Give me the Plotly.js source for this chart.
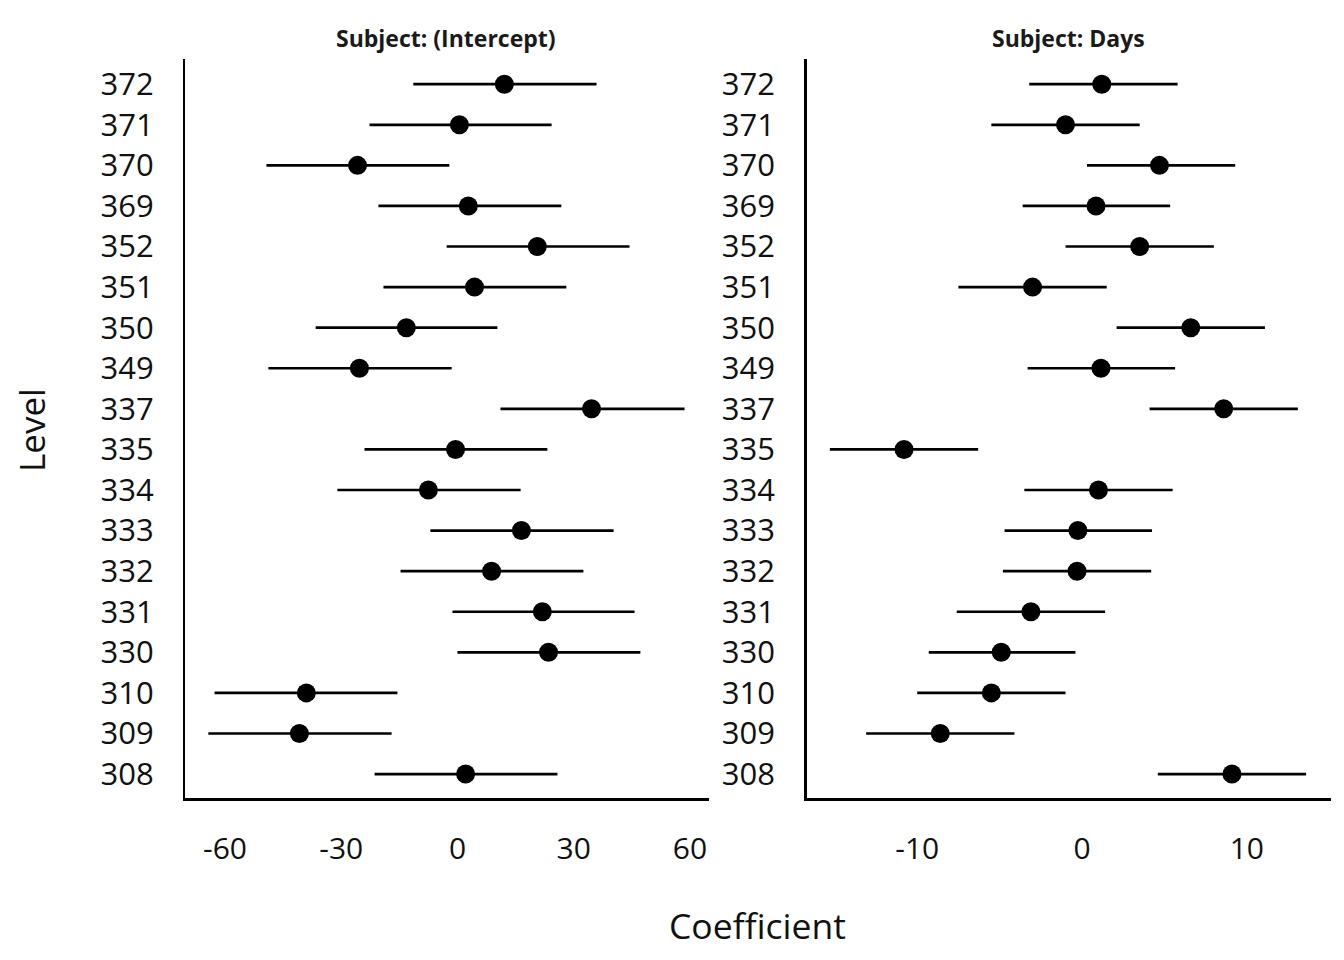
<!DOCTYPE html>
<html>
<head>
<meta charset="utf-8">
<script src="https://cdn.plot.ly/plotly-3.0.1.min.js"></script>
<style>
	html, body {margin: 0; padding: 0; background: #fff;}
	#chart {width: 1344px; height: 960px;}
</style>
</head>
<body>
<div id="chart"></div>
<script>
// levels listed top to bottom, as they read on the chart
const levels = ["372", "371", "370", "369", "352", "351", "350", "349", "337", "335", "334", "333", "332", "331", "330", "310", "309", "308"];

// Subject: (Intercept)
const intercept_est = [12.1, 0.5, -25.8, 2.8, 20.6, 4.4, -13.2, -25.3, 34.6, -0.5, -7.5, 16.5, 8.8, 21.9, 23.5, -39.0, -40.8, 2.1];
const intercept_lo = [-11.4, -22.7, -49.3, -20.4, -2.8, -19.1, -36.6, -48.8, 11.1, -24.0, -31.0, -7.0, -14.7, -1.3, 0.0, -62.7, -64.3, -21.4];
const intercept_hi = [35.9, 24.3, -2.1, 26.8, 44.4, 28.1, 10.3, -1.5, 58.6, 23.2, 16.3, 40.3, 32.5, 45.7, 47.2, -15.5, -17.0, 25.8];

// Subject: Days
const days_est = [1.2, -1.0, 4.7, 0.85, 3.5, -3.0, 6.6, 1.15, 8.6, -10.8, 1.0, -0.25, -0.3, -3.1, -4.9, -5.5, -8.6, 9.1];
const days_lo = [-3.2, -5.5, 0.3, -3.6, -1.0, -7.5, 2.1, -3.3, 4.1, -15.3, -3.5, -4.7, -4.8, -7.6, -9.3, -10.0, -13.1, 4.6];
const days_hi = [5.8, 3.5, 9.3, 5.35, 8.0, 1.5, 11.1, 5.65, 13.1, -6.3, 5.5, 4.25, 4.2, 1.4, -0.4, -1.0, -4.1, 13.6];

const x_ticks_intercept = [-60, -30, 0, 30, 60];
const x_ticks_days = [-10, 0, 10];

const font_family = '"Open Sans", "Noto Sans", sans-serif';

function make_trace(est, lo, hi, xaxis, yaxis) {
	return {
		type: 'scatter',
		mode: 'markers',
		x: est,
		y: levels,
		xaxis: xaxis,
		yaxis: yaxis,
		marker: {color: '#000', size: 19},
		error_x: {
			type: 'data',
			symmetric: false,
			array: hi.map((h, i) => h - est[i]),
			arrayminus: lo.map((l, i) => est[i] - l),
			color: '#000',
			thickness: 2.7,
			width: 0
		},
		showlegend: false,
		hoverinfo: 'x+y'
	};
}

function x_axis_layout(domain, range, ticks, anchor) {
	return {
		domain: domain,
		range: range,
		anchor: anchor,
		tickvals: ticks,
		ticktext: ticks.map(String),
		showgrid: false,
		zeroline: false,
		showline: true,
		linecolor: '#000',
		linewidth: 2.6,
		ticks: 'outside',
		ticklen: 22,
		tickcolor: 'rgba(0,0,0,0)',
		tickfont: {size: 30, color: '#111', family: font_family}
	};
}

function y_axis_layout(anchor) {
	return {
		domain: [0.16875, 0.9385],
		type: 'category',
		categoryorder: 'array',
		categoryarray: levels,
		range: [17.59, -0.62],
		anchor: anchor,
		showgrid: false,
		zeroline: false,
		showline: true,
		linecolor: '#000',
		linewidth: 2.6,
		ticks: 'outside',
		ticklen: 23,
		tickcolor: 'rgba(0,0,0,0)',
		tickfont: {size: 31, color: '#111', family: font_family}
	};
}

const chart_data = [
	make_trace(intercept_est, intercept_lo, intercept_hi, 'x', 'y'),
	make_trace(days_est, days_lo, days_hi, 'x2', 'y2')
];

const chart_layout = {
	width: 1344,
	height: 960,
	margin: {l: 0, r: 0, t: 0, b: 0},
	paper_bgcolor: '#fff',
	plot_bgcolor: '#fff',
	font: {family: font_family, color: '#111'},
	xaxis: x_axis_layout([0.1380, 0.5272], [-70.2, 64.8], x_ticks_intercept, 'y'),
	yaxis: y_axis_layout('x'),
	xaxis2: x_axis_layout([0.6003, 0.9902], [-16.7, 15.1], x_ticks_days, 'y2'),
	yaxis2: y_axis_layout('x2'),
	annotations: [
		{
			text: '<b>Subject: (Intercept)</b>',
			x: 446 / 1344, y: 1 - 38 / 960, xref: 'paper', yref: 'paper',
			xanchor: 'center', yanchor: 'middle', showarrow: false,
			font: {size: 23, color: '#1a1a1a', family: font_family}
		},
		{
			text: '<b>Subject: Days</b>',
			x: 1068 / 1344, y: 1 - 38 / 960, xref: 'paper', yref: 'paper',
			xanchor: 'center', yanchor: 'middle', showarrow: false,
			font: {size: 23, color: '#1a1a1a', family: font_family}
		},
		{
			text: 'Coefficient',
			x: 757 / 1344, y: 1 - 925 / 960, xref: 'paper', yref: 'paper',
			xanchor: 'center', yanchor: 'middle', showarrow: false,
			font: {size: 35.5, color: '#111', family: font_family}
		},
		{
			text: 'Level',
			x: 31 / 1344, y: 1 - 430 / 960, xref: 'paper', yref: 'paper',
			xanchor: 'center', yanchor: 'middle', showarrow: false, textangle: -90,
			font: {size: 35, color: '#111', family: font_family}
		}
	]
};

Plotly.newPlot('chart', chart_data, chart_layout, {displayModeBar: false, staticPlot: true});
</script>
</body>
</html>
